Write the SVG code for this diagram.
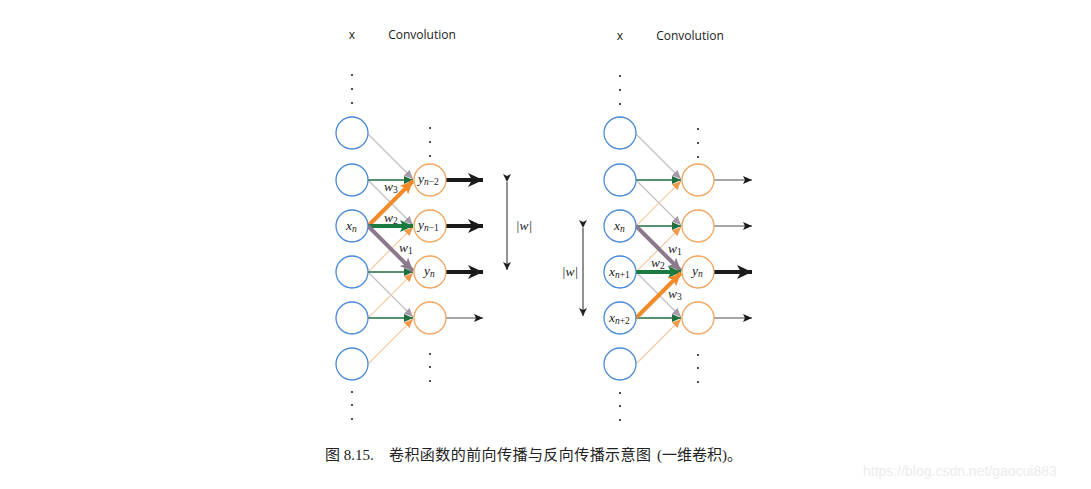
<svg xmlns="http://www.w3.org/2000/svg" width="1091" height="489" viewBox="0 0 1091 489">
<style>
.in{fill:#fff;stroke:#4a8ad6;stroke-width:1.3}
.out{fill:#fff;stroke:#f2a45e;stroke-width:1.3}
.hdr{font-family:"Open Sans","DejaVu Sans",sans-serif;font-size:12px;fill:#1a1a1a}
.dot{fill:#222}
.m{font-family:"Liberation Serif",serif;font-style:italic;font-size:13.5px;fill:#222}
.s{font-size:9.5px}
.u{font-style:normal}
.g{stroke:#c4c0c4;stroke-width:1.3;fill:none}
.o{stroke:#f5cda8;stroke-width:1.3;fill:none}
.gr{stroke:#1f6e3e;stroke-width:1.3;fill:none}
.tg{stroke:#8a7a8c;stroke-width:4;fill:none}
.to{stroke:#f28a2a;stroke-width:4;fill:none}
.tgr{stroke:#1a7a40;stroke-width:4;fill:none}
.kb{stroke:#1a1a1a;stroke-width:4;fill:none}
.ks{stroke:#888;stroke-width:1.5;fill:none}
.dim{stroke:#222;stroke-width:1;fill:none}
.cap{font-family:"Liberation Serif","Noto Sans CJK SC",serif;font-size:15px;fill:#222}
</style>
<defs>
<marker id="hG" markerUnits="userSpaceOnUse" markerWidth="9" markerHeight="8" refX="9" refY="4" orient="auto"><path d="M0,0 L9,4 L0,8 z" fill="#a89aa8"/></marker>
<marker id="hO" markerUnits="userSpaceOnUse" markerWidth="9" markerHeight="8" refX="9" refY="4" orient="auto"><path d="M0,0 L9,4 L0,8 z" fill="#f29a4a"/></marker>
<marker id="hGr" markerUnits="userSpaceOnUse" markerWidth="9" markerHeight="8" refX="9" refY="4" orient="auto"><path d="M0,0 L9,4 L0,8 z" fill="#1f6e3e"/></marker>
<marker id="HG" markerUnits="userSpaceOnUse" markerWidth="13" markerHeight="12" refX="13" refY="6" orient="auto"><path d="M0,0 L13,6 L0,12 L3,6 z" fill="#8a7a8c"/></marker>
<marker id="HO" markerUnits="userSpaceOnUse" markerWidth="13" markerHeight="12" refX="13" refY="6" orient="auto"><path d="M0,0 L13,6 L0,12 L3,6 z" fill="#f28a2a"/></marker>
<marker id="HGr" markerUnits="userSpaceOnUse" markerWidth="13" markerHeight="12" refX="13" refY="6" orient="auto"><path d="M0,0 L13,6 L0,12 L3,6 z" fill="#1a7a40"/></marker>
<marker id="KB" markerUnits="userSpaceOnUse" markerWidth="15" markerHeight="14" refX="15" refY="7" orient="auto"><path d="M0,0 L15,7 L0,14 L4,7 z" fill="#1a1a1a"/></marker>
<marker id="KS" markerUnits="userSpaceOnUse" markerWidth="9" markerHeight="8" refX="9" refY="4" orient="auto"><path d="M0,0 L9,4 L0,8 L2,4 z" fill="#1a1a1a"/></marker>
<marker id="D" markerUnits="userSpaceOnUse" markerWidth="8" markerHeight="8" refX="8" refY="4" orient="auto"><path d="M0,0 L8,4 L0,8 L2,4 z" fill="#222"/></marker>
</defs>

<!-- headers -->
<text class="hdr" x="352" y="39" text-anchor="middle">x</text>
<text class="hdr" x="422" y="39" text-anchor="middle">Convolution</text>
<text class="hdr" x="620" y="40" text-anchor="middle">x</text>
<text class="hdr" x="690" y="40" text-anchor="middle">Convolution</text>

<!-- dots -->
<g id="dots">
<circle class="dot" cx="352" cy="75" r="1.1"/><circle class="dot" cx="352" cy="89" r="1.1"/><circle class="dot" cx="352" cy="103" r="1.1"/>
<circle class="dot" cx="430" cy="128" r="1.1"/><circle class="dot" cx="430" cy="142" r="1.1"/><circle class="dot" cx="430" cy="156" r="1.1"/>
<circle class="dot" cx="430" cy="354" r="1.1"/><circle class="dot" cx="430" cy="367" r="1.1"/><circle class="dot" cx="430" cy="381" r="1.1"/>
<circle class="dot" cx="352" cy="392" r="1.1"/><circle class="dot" cx="352" cy="405" r="1.1"/><circle class="dot" cx="352" cy="419" r="1.1"/>
<circle class="dot" cx="620" cy="76" r="1.1"/><circle class="dot" cx="620" cy="90" r="1.1"/><circle class="dot" cx="620" cy="104" r="1.1"/>
<circle class="dot" cx="698" cy="129" r="1.1"/><circle class="dot" cx="698" cy="143" r="1.1"/><circle class="dot" cx="698" cy="157" r="1.1"/>
<circle class="dot" cx="698" cy="355" r="1.1"/><circle class="dot" cx="698" cy="368" r="1.1"/><circle class="dot" cx="698" cy="382" r="1.1"/>
<circle class="dot" cx="620" cy="393" r="1.1"/><circle class="dot" cx="620" cy="406" r="1.1"/><circle class="dot" cx="620" cy="420" r="1.1"/>
</g>

<g id="connectors">
<!-- left panel thin -->
<line class="g" x1="368" y1="134" x2="413" y2="179" marker-end="url(#hG)"/>
<line class="g" x1="368" y1="180" x2="413" y2="225" marker-end="url(#hG)"/>
<line class="g" x1="368" y1="272" x2="413" y2="317" marker-end="url(#hG)"/>
<line class="o" x1="368" y1="272" x2="413" y2="227" marker-end="url(#hO)"/>
<line class="o" x1="368" y1="318" x2="413" y2="273" marker-end="url(#hO)"/>
<line class="o" x1="368" y1="364" x2="413" y2="319" marker-end="url(#hO)"/>
<line class="gr" x1="368" y1="180" x2="413" y2="180" marker-end="url(#hGr)"/>
<line class="gr" x1="368" y1="272" x2="413" y2="272" marker-end="url(#hGr)"/>
<line class="gr" x1="368" y1="318" x2="413" y2="318" marker-end="url(#hGr)"/>
<!-- left thick -->
<line class="to" x1="368" y1="226" x2="413" y2="181" marker-end="url(#HO)"/>
<line class="tgr" x1="368" y1="226" x2="413" y2="226" marker-end="url(#HGr)"/>
<line class="tg" x1="368" y1="226" x2="413" y2="271" marker-end="url(#HG)"/>
<!-- left outputs -->
<line class="kb" x1="446" y1="180" x2="483" y2="180" marker-end="url(#KB)"/>
<line class="kb" x1="446" y1="226" x2="483" y2="226" marker-end="url(#KB)"/>
<line class="kb" x1="446" y1="272" x2="483" y2="272" marker-end="url(#KB)"/>
<line class="ks" x1="446" y1="318" x2="483" y2="318" marker-end="url(#KS)"/>
<line class="dim" x1="507" y1="182" x2="507" y2="270" marker-start="url(#D)" marker-end="url(#D)"/>

<!-- right panel thin -->
<line class="g" x1="636" y1="134" x2="681" y2="179" marker-end="url(#hG)"/>
<line class="g" x1="636" y1="180" x2="681" y2="225" marker-end="url(#hG)"/>
<line class="g" x1="636" y1="272" x2="681" y2="317" marker-end="url(#hG)"/>
<line class="o" x1="636" y1="226" x2="681" y2="181" marker-end="url(#hO)"/>
<line class="o" x1="636" y1="272" x2="681" y2="227" marker-end="url(#hO)"/>
<line class="o" x1="636" y1="364" x2="681" y2="319" marker-end="url(#hO)"/>
<line class="gr" x1="636" y1="180" x2="681" y2="180" marker-end="url(#hGr)"/>
<line class="gr" x1="636" y1="226" x2="681" y2="226" marker-end="url(#hGr)"/>
<line class="gr" x1="636" y1="318" x2="681" y2="318" marker-end="url(#hGr)"/>
<!-- right thick -->
<line class="tg" x1="636" y1="226" x2="681" y2="271" marker-end="url(#HG)"/>
<line class="tgr" x1="636" y1="272" x2="681" y2="272" marker-end="url(#HGr)"/>
<line class="to" x1="636" y1="318" x2="681" y2="273" marker-end="url(#HO)"/>
<!-- right outputs -->
<line class="ks" x1="714" y1="180" x2="752" y2="180" marker-end="url(#KS)"/>
<line class="ks" x1="714" y1="226" x2="752" y2="226" marker-end="url(#KS)"/>
<line class="kb" x1="714" y1="272" x2="752" y2="272" marker-end="url(#KB)"/>
<line class="ks" x1="714" y1="318" x2="752" y2="318" marker-end="url(#KS)"/>
<line class="dim" x1="583" y1="228" x2="583" y2="316" marker-start="url(#D)" marker-end="url(#D)"/>
</g>

<!-- left nodes -->
<g id="L-x1"><circle class="in" cx="352" cy="133" r="16"/></g>
<g id="L-x2"><circle class="in" cx="352" cy="180" r="16"/></g>
<g id="L-x3"><circle class="in" cx="352" cy="226" r="16"/><text class="m" x="346" y="230">x<tspan class="s" dy="2">n</tspan></text></g>
<g id="L-x4"><circle class="in" cx="352" cy="272" r="16"/></g>
<g id="L-x5"><circle class="in" cx="352" cy="318" r="16"/></g>
<g id="L-x6"><circle class="in" cx="352" cy="364" r="16"/></g>
<g id="L-y1"><circle class="out" cx="430" cy="180" r="16"/><text class="m" x="418" y="183">y<tspan class="s" dy="2">n</tspan><tspan class="s u">−2</tspan></text></g>
<g id="L-y2"><circle class="out" cx="430" cy="226" r="16"/><text class="m" x="418" y="229">y<tspan class="s" dy="2">n</tspan><tspan class="s u">−1</tspan></text></g>
<g id="L-y3"><circle class="out" cx="430" cy="272" r="16"/><text class="m" x="424" y="275">y<tspan class="s" dy="2">n</tspan></text></g>
<g id="L-y4"><circle class="out" cx="430" cy="318" r="16"/></g>

<!-- right nodes -->
<g id="R-x1"><circle class="in" cx="620" cy="133" r="16"/></g>
<g id="R-x2"><circle class="in" cx="620" cy="180" r="16"/></g>
<g id="R-x3"><circle class="in" cx="620" cy="226" r="16"/><text class="m" x="614" y="230">x<tspan class="s" dy="2">n</tspan></text></g>
<g id="R-x4"><circle class="in" cx="620" cy="272" r="16"/><text class="m" x="609" y="276">x<tspan class="s" dy="2">n</tspan><tspan class="s u">+1</tspan></text></g>
<g id="R-x5"><circle class="in" cx="620" cy="318" r="16"/><text class="m" x="609" y="322">x<tspan class="s" dy="2">n</tspan><tspan class="s u">+2</tspan></text></g>
<g id="R-x6"><circle class="in" cx="620" cy="364" r="16"/></g>
<g id="R-y1"><circle class="out" cx="698" cy="180" r="16"/></g>
<g id="R-y2"><circle class="out" cx="698" cy="226" r="16"/></g>
<g id="R-y3"><circle class="out" cx="698" cy="272" r="16"/><text class="m" x="692" y="275">y<tspan class="s" dy="2">n</tspan></text></g>
<g id="R-y4"><circle class="out" cx="698" cy="318" r="16"/></g>

<!-- weight labels -->
<g id="labels">
<text class="m" x="384" y="191">w<tspan class="s u" dy="2">3</tspan></text>
<text class="m" x="384" y="222">w<tspan class="s u" dy="2">2</tspan></text>
<text class="m" x="399" y="252">w<tspan class="s u" dy="2">1</tspan></text>
<text class="m" x="524" y="230" text-anchor="middle">|w|</text>
<text class="m" x="668" y="253">w<tspan class="s u" dy="2">1</tspan></text>
<text class="m" x="651" y="267">w<tspan class="s u" dy="2">2</tspan></text>
<text class="m" x="668" y="298">w<tspan class="s u" dy="2">3</tspan></text>
<text class="m" x="570" y="276" text-anchor="middle">|w|</text>
</g>

<text class="cap" x="325" y="460">图 8.15.</text>
<text class="cap" x="389" y="460" textLength="262" lengthAdjust="spacing">卷积函数的前向传播与反向传播示意图</text>
<text class="cap" x="657" y="460" font-size="16">(一维卷积)。</text>
<text x="863" y="476" font-family="Liberation Sans, Arial, sans-serif" font-size="14" fill="#ececec">https://blog.csdn.net/gaocui883</text>
</svg>
